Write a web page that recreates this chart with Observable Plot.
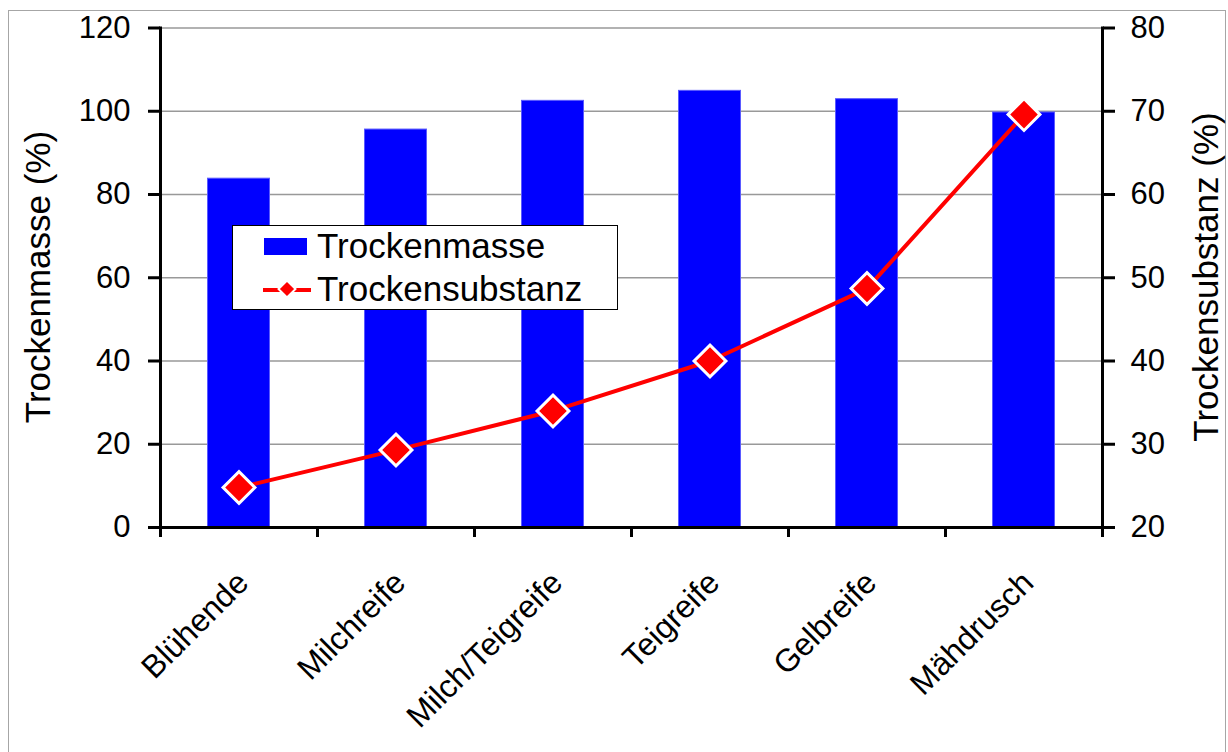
<!DOCTYPE html>
<html>
<head>
<meta charset="utf-8">
<script src="https://cdn.jsdelivr.net/npm/d3@7"></script>
<script src="https://cdn.jsdelivr.net/npm/@observablehq/plot@0.6"></script>
<style>
  html, body { margin: 0; padding: 0; background: #fff; }
  #wrap { position: relative; width: 1228px; height: 752px; overflow: hidden; font-family: "Liberation Sans", Arial, sans-serif; color: #000; }
  #border { position: absolute; left: 8px; top: 10px; width: 1218px; height: 760px; border: 1.5px solid #a6a6a6; box-sizing: border-box; pointer-events: none; }
  #chart { position: absolute; left: 0; top: 0; }
  .ytitle { position: absolute; font-size: 35px; white-space: nowrap; transform-origin: center center; }
  #legend { position: absolute; left: 232px; top: 225px; width: 386px; height: 85px; box-sizing: border-box; border: 1.5px solid #000; background: #fff; }
  .lrow { position: absolute; left: 0; height: 40px; display: flex; align-items: center; font-size: 35px; white-space: nowrap; }
</style>
</head>
<body>
<div id="wrap">
  <div id="chart"></div>
  <div id="border"></div>
  <div id="legend"></div>
</div>
<script>
const categories = ["Blühende", "Milchreife", "Milch/Teigreife", "Teigreife", "Gelbreife", "Mähdrusch"];
const trockenmasse = [83.8, 95.6, 102.5, 104.9, 102.9, 99.7];
const trockensubstanz = [24.8, 29.3, 34.0, 40.0, 48.7, 69.6];
const leftTicks = [0, 20, 40, 60, 80, 100, 120];
const rightTicks = [20, 30, 40, 50, 60, 70, 80];
const seriesNames = ["Trockenmasse", "Trockensubstanz"];
const leftTitle = "Trockenmasse (%)";
const rightTitle = "Trockensubstanz (%)";

// right axis (20..80) mapped onto left scale (0..120)
const toLeft = v => (v - 20) * 2;
const fromLeft = v => v / 2 + 20;

const data = categories.map((c, i) => ({cat: c, masse: trockenmasse[i], subst: trockensubstanz[i]}));

const W = 1228, H = 752;
const mL = 160, mR = 126, mT = 27.5, mB = 225;
const band = (W - mL - mR) / categories.length;
const barW = 62;
const font = "Liberation Sans, Arial, sans-serif";

const chart = Plot.plot({
  width: W,
  height: H,
  marginLeft: mL,
  marginRight: mR,
  marginTop: mT,
  marginBottom: mB,
  style: {fontFamily: font, color: "#000", background: "transparent", overflow: "visible"},
  x: {type: "band", domain: categories, padding: 0},
  y: {domain: [0, 120]},
  marks: [
    Plot.gridY(leftTicks.slice(1), {stroke: "#999", strokeOpacity: 1, strokeWidth: 1.5}),
    Plot.barY(data, {x: "cat", y: "masse", fill: "#0000ff", stroke: "#5a5aff", strokeWidth: 1,
      insetLeft: (band - barW) / 2, insetRight: (band - barW) / 2}),
    Plot.lineY(data, {x: "cat", y: d => toLeft(d.subst), stroke: "#ff0000", strokeWidth: 4}),
    Plot.dot(data, {x: "cat", y: d => toLeft(d.subst), symbol: "square", r: 12.7, rotate: 45,
      fill: "#ff0000", stroke: "#fff", strokeWidth: 3}),
    // axis lines
    Plot.ruleY([0], {stroke: "#000", strokeWidth: 3}),
    Plot.frame({anchor: "left", stroke: "#000", strokeWidth: 3}),
    Plot.frame({anchor: "right", stroke: "#000", strokeWidth: 3}),
    // left axis
    Plot.axisY(leftTicks, {anchor: "left", tickSize: 12, tickPadding: 18, strokeWidth: 3,
      fontSize: 31, label: null, tickFormat: d => String(d)}),
    // right axis
    Plot.axisY(rightTicks.map(toLeft), {anchor: "right", tickSize: 12, tickPadding: 16, strokeWidth: 3,
      fontSize: 31, label: null, tickFormat: d => String(fromLeft(d))}),
    // category boundary ticks
    Plot.axisX(categories, {anchor: "bottom", tickSize: 10, strokeWidth: 3, dx: -band / 2,
      tickFormat: () => "", label: null}),
    Plot.axisX([categories[categories.length - 1]], {anchor: "bottom", tickSize: 10, strokeWidth: 3, dx: band / 2,
      tickFormat: () => "", label: null}),
    // category labels
    Plot.text(categories, {x: d => d, frameAnchor: "bottom", dy: 50, dx: 4, rotate: -45,
      textAnchor: "end", lineAnchor: "middle", fontSize: 32, fill: "#000"})
  ]
});
document.getElementById("chart").appendChild(chart);

// axis titles
const wrap = document.getElementById("wrap");
function addTitle(text, cx, cy) {
  const el = document.createElement("div");
  el.className = "ytitle";
  el.textContent = text;
  wrap.appendChild(el);
  const w = el.offsetWidth, h = el.offsetHeight;
  el.style.left = (cx - w / 2) + "px";
  el.style.top = (cy - h / 2) + "px";
  el.style.transform = "rotate(-90deg)";
}
const midY = mT + (H - mT - mB) / 2;
addTitle(leftTitle, 38, midY);
addTitle(rightTitle, 1205, midY);

// legend
const legend = document.getElementById("legend");
const rows = [
  {name: seriesNames[0], top: 0,
   sym: '<svg width="52" height="40"><rect x="31" y="12" width="43" height="17" fill="#0000ff" transform="translate(-28,0)"/></svg>'},
  {name: seriesNames[1], top: 43,
   sym: '<svg width="52" height="40"><line x1="2" y1="21" x2="50" y2="21" stroke="#ff0000" stroke-width="4"/><rect x="20" y="14" width="12" height="12" fill="#ff0000" stroke="#fff" stroke-width="2" transform="rotate(45 26 20)"/></svg>'}
];
rows.forEach(r => {
  const d = document.createElement("div");
  d.className = "lrow";
  d.style.top = (r.top) + "px";
  d.innerHTML = '<span style="display:inline-block;width:28px"></span>' + r.sym + '<span style="margin-left:4px">' + r.name + '</span>';
  legend.appendChild(d);
});
</script>
</body>
</html>
